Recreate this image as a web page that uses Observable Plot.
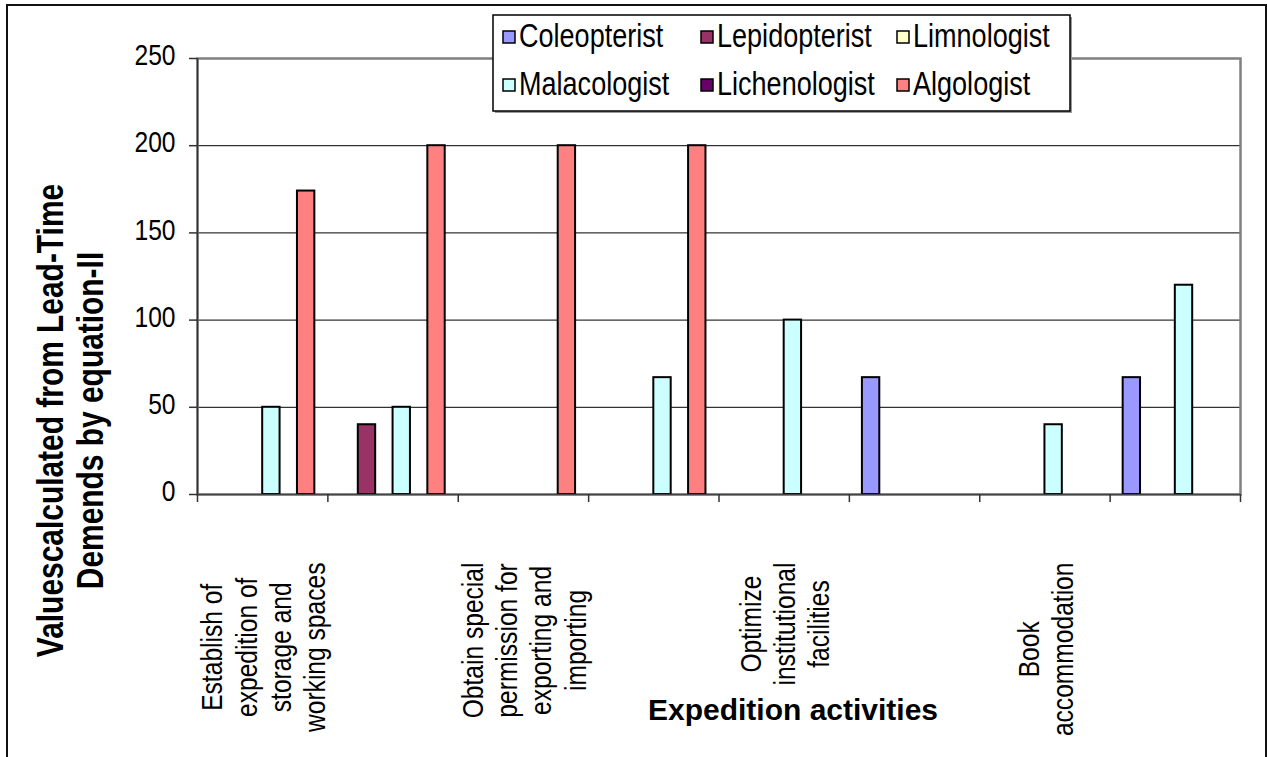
<!DOCTYPE html>
<html>
<head>
<meta charset="utf-8">
<script src="https://cdn.jsdelivr.net/npm/d3@7"></script>
<script src="https://cdn.jsdelivr.net/npm/@observablehq/plot@0.6"></script>
<style>
  html, body { margin: 0; padding: 0; background: #fff; overflow: hidden; }
  #wrap { position: relative; width: 1267px; height: 757px; overflow: hidden; font-family: "Liberation Sans", Arial, sans-serif; }
  #chart { position: absolute; left: 0; top: 0; }
  #border { position: absolute; left: 6px; top: 4px; width: 1261px; height: 820px; border: 2.5px solid #111; box-sizing: border-box; pointer-events: none; }
  #legend { position: absolute; left: 0; top: 0; }
</style>
</head>
<body>
<div id="wrap">
  <div id="chart"></div>
  <div id="border"></div>
  <svg id="legend" width="1267" height="130"></svg>
</div>
<script>
// ---- data ----
const categories = [
  "Establish of expedition of storage and working spaces",
  "",
  "Obtain special permission for exporting and importing",
  "",
  "Optimize institutional facilities",
  "",
  "Book accommodation",
  ""
];
const tickLabels = [
  "Establish of\nexpedition of\nstorage and\nworking spaces",
  "",
  "Obtain special\npermission for\nexporting and\nimporting",
  "",
  "Optimize\ninstitutional\nfacilities",
  "",
  "Book\naccommodation",
  ""
];
const series = ["Coleopterist", "Lepidopterist", "Limnologist", "Malacologist", "Lichenologist", "Algologist"];
const seriesColors = ["#9999FF", "#993366", "#FFFFCC", "#CCFFFF", "#660066", "#FF8080"];
const coleopterist  = [0, 0, 0, 0, 0, 67, 0, 67];
const lepidopterist = [0, 40, 0, 0, 0, 0, 0, 0];
const limnologist   = [0, 0, 0, 0, 0, 0, 0, 0];
const malacologist  = [50, 50, 0, 67, 100, 0, 40, 120];
const lichenologist = [0, 0, 0, 0, 0, 0, 0, 0];
const algologist    = [174, 200, 200, 200, 0, 0, 0, 0];
const yTicks = [0, 50, 100, 150, 200, 250];
const xTitle = "Expedition activities";
const yTitle = "Valuescalculated from Lead-Time\nDemends by equation-II";

const seriesValues = [coleopterist, lepidopterist, limnologist, malacologist, lichenologist, algologist];

// long-format table
const rows = [];
categories.forEach((c, ci) => {
  series.forEach((s, si) => {
    rows.push({category: c, ci, series: s, si, value: seriesValues[si][ci]});
  });
});
const labelRows = tickLabels.map((t, ci) => ({ci, label: t})).filter(d => d.label !== "");

// ---- fonts: the original uses a condensed sans; emulate it by squeezing Liberation Sans ----
const font = "'Liberation Sans', Arial, Helvetica, sans-serif";
const squeeze = 0.82;
const F = {tick: 30, cat: 30, catLH: 1.14, legend: 33, ylab: 36.5, ylabLH: 1.1};

const ctx = document.createElement("canvas").getContext("2d");
function longestLine(label, size) {
  ctx.font = `${size}px ${font}`;
  return squeeze * d3.max(label.split("\n"), l => ctx.measureText(l).width);
}

// clustered-column layout in category units (gap = 150% of a bar width)
const gap = 0.75;
const slots = series.length + 2 * gap;

// category label blocks hang from a common top edge; lines are centred in each block
const labelTop = 68;
const labelMarks = labelRows.map(d => Plot.text([d], {
  x: r => r.ci + 0.5,
  text: "label",
  rotate: -90,
  frameAnchor: "bottom",
  dy: labelTop + longestLine(d.label, F.cat) / 2,
  textAnchor: "middle",
  lineAnchor: "middle",
  lineHeight: F.catLH,
  fontSize: F.cat,
  fill: "black"
}));

const chart = Plot.plot({
  width: 1267,
  height: 757,
  marginLeft: 197,
  marginRight: 27,
  marginTop: 58,
  marginBottom: 263,
  style: {fontFamily: font, background: "transparent", color: "black", overflow: "visible"},
  x: {domain: [0, categories.length], axis: null},
  y: {domain: [0, 250], axis: null},
  color: {domain: series, range: seriesColors},
  marks: [
    Plot.gridY(yTicks.filter(t => t > 0 && t < 250), {stroke: "black", strokeOpacity: 1, strokeWidth: 1}),
    Plot.frame({stroke: "#808080", strokeWidth: 2.5}),
    Plot.rectY(rows.filter(d => d.value > 0), {
      x1: d => d.ci + (gap + d.si) / slots,
      x2: d => d.ci + (gap + d.si + 1) / slots,
      y1: 0,
      y2: "value",
      fill: "series",
      stroke: "black",
      strokeWidth: 2
    }),
    Plot.ruleX([0], {stroke: "#333", strokeWidth: 1.5}),
    Plot.ruleY([0], {stroke: "#444", strokeWidth: 1.5}),
    // y tick marks
    Plot.axisY({ticks: yTicks, tickSize: 8, tickFormat: () => "", label: null, stroke: "#333", strokeWidth: 1.5}),
    // y tick labels (sit slightly above their gridlines, as in the original)
    Plot.axisY({ticks: yTicks, tickSize: 0, tickPadding: 22, fontSize: F.tick, dy: -3, label: null, fill: "black"}),
    Plot.axisX({ticks: d3.range(categories.length + 1), tickSize: 8, tickFormat: () => "", label: null, stroke: "#333", strokeWidth: 1.5}),
    ...labelMarks,
    Plot.text([xTitle], {
      text: d => d,
      frameAnchor: "bottom",
      dx: 74,
      dy: 216,
      lineAnchor: "middle",
      fontSize: 30,
      fontWeight: "bold",
      fill: "black"
    }),
    Plot.text([yTitle], {
      text: d => d,
      frameAnchor: "left",
      rotate: -90,
      dx: -127,
      dy: 144,
      textAnchor: "middle",
      lineAnchor: "middle",
      lineHeight: F.ylabLH,
      fontSize: F.ylab,
      fontWeight: "bold",
      fill: "black"
    })
  ]
});

// condense glyphs along the reading direction (all texts except the bold x title)
d3.select(chart).selectAll("text").each(function() {
  if (this.textContent === xTitle || this.textContent === "") return;
  const t = this.getAttribute("transform");
  if (t) {
    this.setAttribute("transform", `${t} scale(${squeeze},1)`);
  } else {
    const x = +this.getAttribute("x") || 0, y = +this.getAttribute("y") || 0;
    this.removeAttribute("x"); this.removeAttribute("y");
    this.setAttribute("transform", `translate(${x},${y}) scale(${squeeze},1)`);
  }
});
document.getElementById("chart").appendChild(chart);

// ---- legend (boxed, two rows of three, overlapping the plot top like the original) ----
const lg = d3.select("#legend");
const box = {x: 493, y: 15, w: 577, h: 96};
lg.append("rect").attr("x", box.x + 2).attr("y", box.y + 2).attr("width", box.w).attr("height", box.h).attr("fill", "#9a9a9a");
lg.append("rect").attr("x", box.x).attr("y", box.y).attr("width", box.w).attr("height", box.h)
  .attr("fill", "white").attr("stroke", "black").attr("stroke-width", 1.5);
const colText = [519, 717, 913];
const rowBase = [47, 95];
series.forEach((s, i) => {
  const col = i % 3, row = Math.floor(i / 3);
  const g = lg.append("g");
  g.append("rect")
    .attr("x", colText[col] - 16).attr("y", rowBase[row] - 16)
    .attr("width", 12).attr("height", 12)
    .attr("fill", seriesColors[i]).attr("stroke", "black").attr("stroke-width", 1.5);
  g.append("text")
    .attr("transform", `translate(${colText[col]},${rowBase[row]}) scale(${squeeze},1)`)
    .attr("font-family", font).attr("font-size", F.legend).attr("fill", "black")
    .text(s);
});
</script>
</body>
</html>
